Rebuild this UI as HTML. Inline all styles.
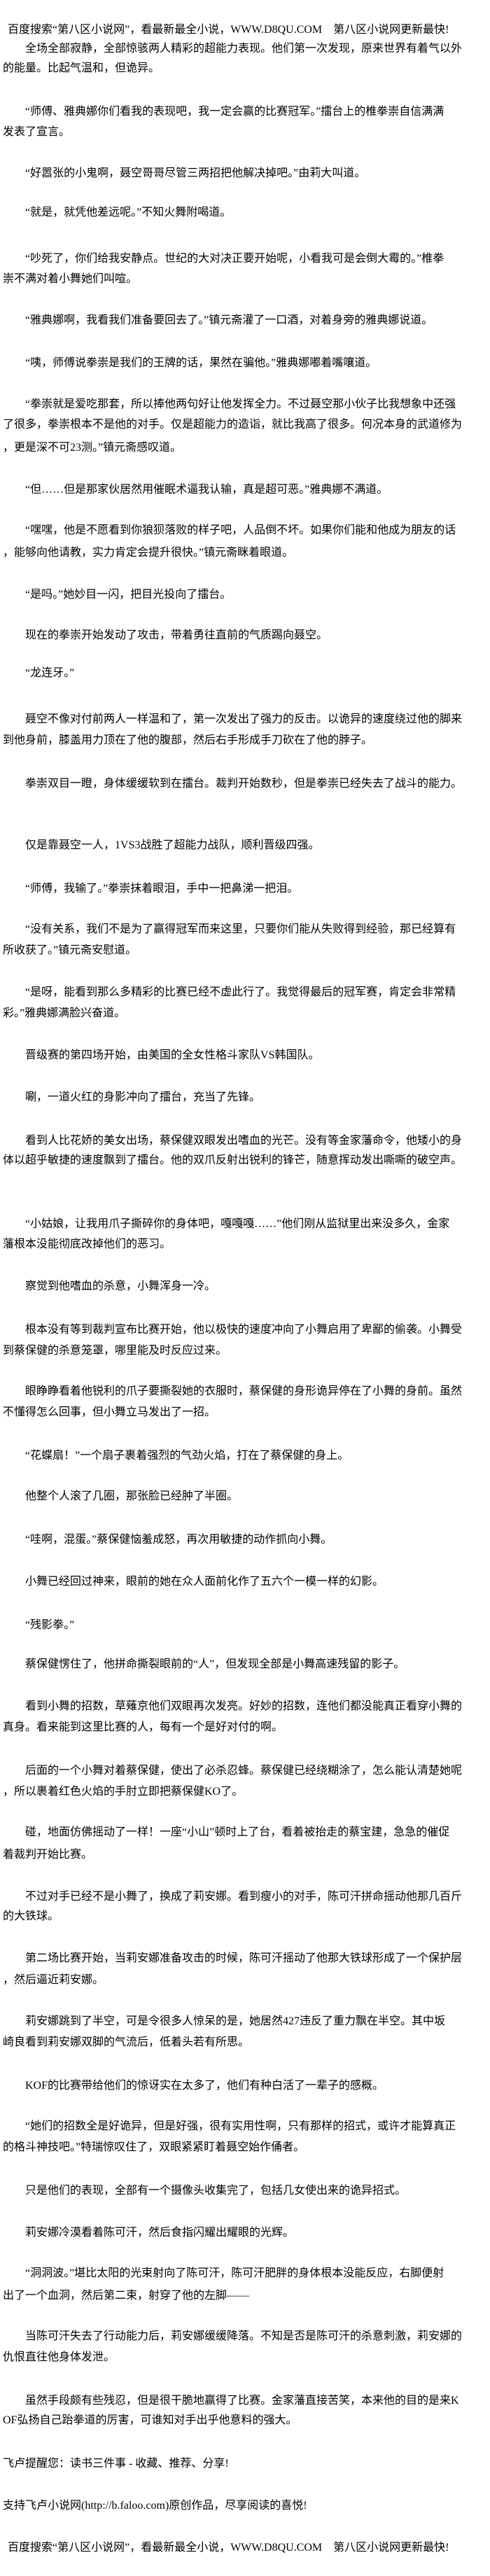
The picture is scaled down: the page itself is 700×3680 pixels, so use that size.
<!DOCTYPE html>
<html><head><meta charset="utf-8">
<style>
html,body{margin:0;padding:0;background:#fff;}
body{width:700px;height:3680px;position:relative;overflow:hidden;font-family:"Liberation Serif","Noto Sans CJK SC",sans-serif;font-size:16px;color:#000;}
.l{position:absolute;left:4px;height:20px;line-height:20px;white-space:nowrap;}
.i{left:36px;}
.h{left:11px;}
</style></head><body>
<div class="l h" style="top:33px">百度搜索“第八区小说网”，看最新最全小说，WWW.D8QU.COM　第八区小说网更新最快!</div>
<div class="l i" style="top:60px">全场全部寂静，全部惊骇两人精彩的超能力表现。他们第一次发现，原来世界有着气以外</div>
<div class="l" style="top:88px">的能量。比起气温和，但诡异。</div>
<div class="l i" style="top:150px">“师傅、雅典娜你们看我的表现吧，我一定会赢的比赛冠军。”擂台上的椎拳崇自信满满</div>
<div class="l" style="top:179px">发表了宣言。</div>
<div class="l i" style="top:238px">“好嚣张的小鬼啊，聂空哥哥尽管三两招把他解决掉吧。”由莉大叫道。</div>
<div class="l i" style="top:294px">“就是，就凭他差远呢。”不知火舞附喝道。</div>
<div class="l i" style="top:360px">“吵死了，你们给我安静点。世纪的大对决正要开始呢，小看我可是会倒大霉的。”椎拳</div>
<div class="l" style="top:389px">崇不满对着小舞她们叫喧。</div>
<div class="l i" style="top:448px">“雅典娜啊，我看我们准备要回去了。”镇元斋灌了一口酒，对着身旁的雅典娜说道。</div>
<div class="l i" style="top:509px">“咦，师傅说拳崇是我们的王牌的话，果然在骗他。”雅典娜嘟着嘴嚷道。</div>
<div class="l i" style="top:568px">“拳崇就是爱吃那套，所以捧他两句好让他发挥全力。不过聂空那小伙子比我想象中还强</div>
<div class="l" style="top:597px">了很多，拳崇根本不是他的对手。仅是超能力的造诣，就比我高了很多。何况本身的武道修为</div>
<div class="l" style="top:630px">，更是深不可23测。”镇元斋感叹道。</div>
<div class="l i" style="top:690px">“但……但是那家伙居然用催眠术逼我认输，真是超可恶。”雅典娜不满道。</div>
<div class="l i" style="top:748px">“嘿嘿，他是不愿看到你狼狈落败的样子吧，人品倒不坏。如果你们能和他成为朋友的话</div>
<div class="l" style="top:780px">，能够向他请教，实力肯定会提升很快。”镇元斋眯着眼道。</div>
<div class="l i" style="top:840px">“是吗。”她妙目一闪，把目光投向了擂台。</div>
<div class="l i" style="top:898px">现在的拳崇开始发动了攻击，带着勇往直前的气质踢向聂空。</div>
<div class="l i" style="top:952px">“龙连牙。”</div>
<div class="l i" style="top:1018px">聂空不像对付前两人一样温和了，第一次发出了强力的反击。以诡异的速度绕过他的脚来</div>
<div class="l" style="top:1048px">到他身前，膝盖用力顶在了他的腹部，然后右手形成手刀砍在了他的脖子。</div>
<div class="l i" style="top:1110px">拳崇双目一瞪，身体缓缓软到在擂台。裁判开始数秒，但是拳崇已经失去了战斗的能力。</div>
<div class="l i" style="top:1198px">仅是靠聂空一人，1VS3战胜了超能力战队，顺利晋级四强。</div>
<div class="l i" style="top:1260px">“师傅，我输了。”拳崇抹着眼泪，手中一把鼻涕一把泪。</div>
<div class="l i" style="top:1318px">“没有关系，我们不是为了赢得冠军而来这里，只要你们能从失败得到经验，那已经算有</div>
<div class="l" style="top:1348px">所收获了。”镇元斋安慰道。</div>
<div class="l i" style="top:1408px">“是呀，能看到那么多精彩的比赛已经不虚此行了。我觉得最后的冠军赛，肯定会非常精</div>
<div class="l" style="top:1438px">彩。”雅典娜满脸兴奋道。</div>
<div class="l i" style="top:1498px">晋级赛的第四场开始，由美国的全女性格斗家队VS韩国队。</div>
<div class="l i" style="top:1558px">唰，一道火红的身影冲向了擂台，充当了先锋。</div>
<div class="l i" style="top:1620px">看到人比花娇的美女出场，蔡保健双眼发出嗜血的光芒。没有等金家藩命令，他矮小的身</div>
<div class="l" style="top:1648px">体以超乎敏捷的速度飘到了擂台。他的双爪反射出锐利的锋芒，随意挥动发出嘶嘶的破空声。</div>
<div class="l i" style="top:1739px">“小姑娘，让我用爪子撕碎你的身体吧，嘎嘎嘎……”他们刚从监狱里出来没多久，金家</div>
<div class="l" style="top:1768px">藩根本没能彻底改掉他们的恶习。</div>
<div class="l i" style="top:1828px">察觉到他嗜血的杀意，小舞浑身一冷。</div>
<div class="l i" style="top:1890px">根本没有等到裁判宣布比赛开始，他以极快的速度冲向了小舞启用了卑鄙的偷袭。小舞受</div>
<div class="l" style="top:1920px">到蔡保健的杀意笼罩，哪里能及时反应过来。</div>
<div class="l i" style="top:1978px">眼睁睁看着他锐利的爪子要撕裂她的衣服时，蔡保健的身形诡异停在了小舞的身前。虽然</div>
<div class="l" style="top:2008px">不懂得怎么回事，但小舞立马发出了一招。</div>
<div class="l i" style="top:2070px">“花蝶扇！”一个扇子裹着强烈的气劲火焰，打在了蔡保健的身上。</div>
<div class="l i" style="top:2128px">他整个人滚了几圈，那张脸已经肿了半圈。</div>
<div class="l i" style="top:2190px">“哇啊，混蛋。”蔡保健恼羞成怒，再次用敏捷的动作抓向小舞。</div>
<div class="l i" style="top:2250px">小舞已经回过神来，眼前的她在众人面前化作了五六个一模一样的幻影。</div>
<div class="l i" style="top:2312px">“残影拳。”</div>
<div class="l i" style="top:2368px">蔡保健愣住了，他拼命撕裂眼前的“人”，但发现全部是小舞高速残留的影子。</div>
<div class="l i" style="top:2428px">看到小舞的招数，草薙京他们双眼再次发亮。好妙的招数，连他们都没能真正看穿小舞的</div>
<div class="l" style="top:2458px">真身。看来能到这里比赛的人，每有一个是好对付的啊。</div>
<div class="l i" style="top:2520px">后面的一个小舞对着蔡保健，使出了必杀忍蜂。蔡保健已经绕糊涂了，怎么能认清楚她呢</div>
<div class="l" style="top:2550px">，所以裹着红色火焰的手肘立即把蔡保健KO了。</div>
<div class="l i" style="top:2608px">碰，地面仿佛摇动了一样！一座“小山”顿时上了台，看着被抬走的蔡宝建，急急的催促</div>
<div class="l" style="top:2640px">着裁判开始比赛。</div>
<div class="l i" style="top:2700px">不过对手已经不是小舞了，换成了莉安娜。看到瘦小的对手，陈可汗拼命摇动他那几百斤</div>
<div class="l" style="top:2728px">的大铁球。</div>
<div class="l i" style="top:2788px">第二场比赛开始，当莉安娜准备攻击的时候，陈可汗摇动了他那大铁球形成了一个保护层</div>
<div class="l" style="top:2819px">，然后逼近莉安娜。</div>
<div class="l i" style="top:2878px">莉安娜跳到了半空，可是令很多人惊呆的是，她居然427违反了重力飘在半空。其中坂</div>
<div class="l" style="top:2908px">崎良看到莉安娜双脚的气流后，低着头若有所思。</div>
<div class="l i" style="top:2970px">KOF的比赛带给他们的惊讶实在太多了，他们有种白活了一辈子的感概。</div>
<div class="l i" style="top:3028px">“她们的招数全是好诡异，但是好强，很有实用性啊，只有那样的招式，或许才能算真正</div>
<div class="l" style="top:3058px">的格斗神技吧。”特瑞惊叹住了，双眼紧紧盯着聂空始作俑者。</div>
<div class="l i" style="top:3120px">只是他们的表现，全部有一个摄像头收集完了，包括几女使出来的诡异招式。</div>
<div class="l i" style="top:3180px">莉安娜冷漠看着陈可汗，然后食指闪耀出耀眼的光辉。</div>
<div class="l i" style="top:3238px">“洞洞波。”堪比太阳的光束射向了陈可汗，陈可汗肥胖的身体根本没能反应，右脚便射</div>
<div class="l" style="top:3270px">出了一个血洞，然后第二束，射穿了他的左脚——</div>
<div class="l i" style="top:3328px">当陈可汗失去了行动能力后，莉安娜缓缓降落。不知是否是陈可汗的杀意刺激，莉安娜的</div>
<div class="l" style="top:3358px">仇恨直往他身体发泄。</div>
<div class="l i" style="top:3420px">虽然手段颇有些残忍，但是很干脆地赢得了比赛。金家藩直接苦笑，本来他的目的是来K</div>
<div class="l" style="top:3448px">OF弘扬自己跆拳道的厉害，可谁知对手出乎他意料的强大。</div>
<div class="l" style="top:3510px">飞卢提醒您：读书三件事 - 收藏、推荐、分享!</div>
<div class="l" style="top:3570px">支持飞卢小说网(http://b.faloo.com)原创作品，尽享阅读的喜悦!</div>
<div class="l h" style="top:3630px">百度搜索“第八区小说网”，看最新最全小说，WWW.D8QU.COM　第八区小说网更新最快!</div>
</body></html>
